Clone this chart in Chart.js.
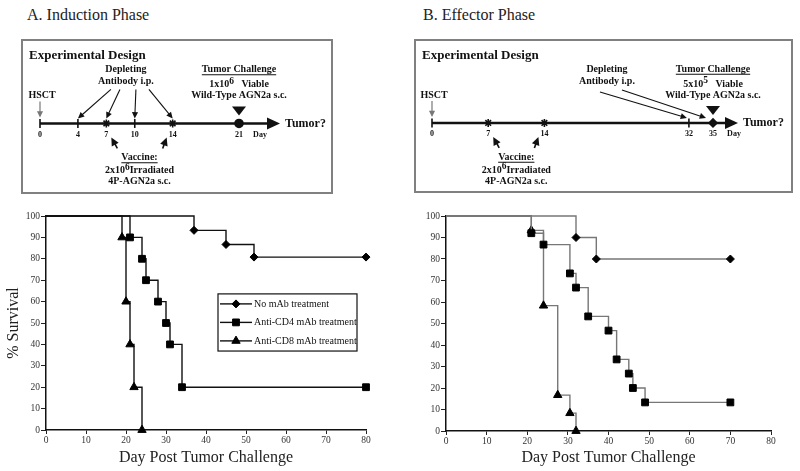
<!DOCTYPE html>
<html>
<head>
<meta charset="utf-8">
<script src="https://cdn.jsdelivr.net/npm/chart.js@4.4.0/dist/chart.umd.min.js"></script>
<style>
  body { margin: 0; background: #fff; width: 800px; height: 471px; overflow: hidden; position: relative; font-family: "Liberation Serif", "Times New Roman", serif; }
  .title { position: absolute; top: 6px; font-size: 16px; line-height: 18px; color: #222; }
  .box { position: absolute; border: 2px solid #808080; box-sizing: border-box; }
  canvas { position: absolute; }
</style>
</head>
<body>
<div class="title" style="left:27px">A. Induction Phase</div>
<div class="title" style="left:423px">B. Effector Phase</div>
<div class="box" style="left:21px;top:39px;width:312px;height:155px"></div>
<div class="box" style="left:414px;top:39px;width:379px;height:154px"></div>
<canvas id="designA" width="310" height="153" style="left:22px;top:40px"></canvas>
<canvas id="designB" width="377" height="152" style="left:415px;top:40px"></canvas>
<canvas id="survivalA" width="400" height="266" style="left:0;top:205px"></canvas>
<canvas id="survivalB" width="400" height="266" style="left:400px;top:205px"></canvas>
<script>
const FAMILY = '"Liberation Serif", "Times New Roman", serif';

// Experimental design timelines (days)
const inductionDays = [0, 4, 7, 10, 14, 21];
const inductionDepletingDays = [4, 7, 10, 14];
const inductionVaccineDays = [7, 14];
const inductionChallengeDay = 21;
const inductionTumorDose = ['1x10', '6'];

const effectorDays = [0, 7, 14, 32, 35];
const effectorDepletingDays = [32, 35];
const effectorVaccineDays = [7, 14];
const effectorChallengeDay = 35;
const effectorTumorDose = ['5x10', '5'];

// Survival curves
const seriesLabels = ['No mAb treatment', 'Anti-CD4 mAb treatment', 'Anti-CD8 mAb treatment'];
const dayTicks = [0, 10, 20, 30, 40, 50, 60, 70, 80];
const survivalTicks = [0, 10, 20, 30, 40, 50, 60, 70, 80, 90, 100];

const inductionNoMabDays = [0, 37, 45, 52, 80];
const inductionNoMabSurvival = [100, 93.3, 86.7, 80.8, 80.8];
const inductionCd4Days = [0, 21, 24, 25, 28, 30, 31, 34, 80];
const inductionCd4Survival = [100, 90, 80, 70, 60, 50, 40, 20, 20];
const inductionCd8Days = [0, 19, 20, 21, 22, 24];
const inductionCd8Survival = [100, 90, 60, 40, 20, 0];

const effectorNoMabDays = [0, 32, 37, 70];
const effectorNoMabSurvival = [100, 90, 80, 80];
const effectorCd4Days = [0, 21, 24, 30.5, 32, 35, 40, 42, 45, 46, 49, 70];
const effectorCd4Survival = [100, 92, 86.7, 73.3, 66.7, 53.3, 46.7, 33.3, 26.7, 20, 13.3, 13.3];
const effectorCd8Days = [0, 21, 24, 27.5, 30.5, 32];
const effectorCd8Survival = [100, 93.3, 58.3, 16.7, 8.3, 0];

// ---------- drawing helpers ----------
function arrow(ctx, x1, y1, x2, y2, head, color, lw) {
  const a = Math.atan2(y2 - y1, x2 - x1);
  ctx.strokeStyle = color;
  ctx.fillStyle = color;
  ctx.lineWidth = lw;
  ctx.beginPath();
  ctx.moveTo(x1, y1);
  ctx.lineTo(x2 - Math.cos(a) * head * 0.7, y2 - Math.sin(a) * head * 0.7);
  ctx.stroke();
  ctx.beginPath();
  ctx.moveTo(x2, y2);
  ctx.lineTo(x2 - head * Math.cos(a - 0.45), y2 - head * Math.sin(a - 0.45));
  ctx.lineTo(x2 - head * Math.cos(a + 0.45), y2 - head * Math.sin(a + 0.45));
  ctx.closePath();
  ctx.fill();
}

function boldText(ctx, text, x, y, size, align, underline) {
  ctx.font = 'bold ' + size + 'px ' + FAMILY;
  ctx.textAlign = align || 'center';
  ctx.textBaseline = 'middle';
  ctx.fillStyle = '#111';
  ctx.fillText(text, x, y);
  if (underline) {
    const w = ctx.measureText(text).width;
    const left = ctx.textAlign === 'center' ? x - w / 2 : x;
    ctx.fillRect(left, y + size * 0.48, w, 1);
  }
}

// parts: [{t, sup}]
function richText(ctx, parts, cx, cy, size) {
  const fontOf = p => 'bold ' + (p.sup ? size * 0.95 : size) + 'px ' + FAMILY;
  const widths = parts.map(p => { ctx.font = fontOf(p); return ctx.measureText(p.t).width; });
  let x = cx - widths.reduce((a, b) => a + b, 0) / 2;
  ctx.textAlign = 'left';
  ctx.textBaseline = 'middle';
  ctx.fillStyle = '#111';
  parts.forEach((p, i) => {
    ctx.font = fontOf(p);
    ctx.fillText(p.t, x, p.sup ? cy - size * 0.3 : cy);
    x += widths[i];
  });
}

// ---------- experimental design panels ----------
const designPlugin = {
  id: 'design',
  beforeDatasetsDraw(chart, args, o) {
    const ctx = chart.ctx;
    const xs = chart.scales.x;
    const ty = chart.scales.y.getPixelForValue(0);
    const px = d => xs.getPixelForValue(d);
    const mean = arr => arr.reduce((a, b) => a + b, 0) / arr.length;
    ctx.save();

    boldText(ctx, 'Experimental Design', 7, 16, 13, 'left');

    // timeline with arrow head
    const x0 = px(0);
    const xEnd = px(o.challenge) + o.arrowEnd;
    ctx.strokeStyle = '#111';
    ctx.lineWidth = 2.5;
    ctx.beginPath();
    ctx.moveTo(x0, ty);
    ctx.lineTo(xEnd - 10, ty);
    ctx.stroke();
    ctx.fillStyle = '#111';
    ctx.beginPath();
    ctx.moveTo(xEnd, ty);
    ctx.lineTo(xEnd - 13, ty - 6);
    ctx.lineTo(xEnd - 13, ty + 6);
    ctx.closePath();
    ctx.fill();
    boldText(ctx, 'Tumor?', xEnd + 5, ty, 12, 'left');

    // day labels
    o.days.forEach(d => boldText(ctx, String(d), px(d), ty + 11, 8));
    boldText(ctx, 'Day', px(o.challenge) + 21, ty + 11, 8);

    // HSCT
    boldText(ctx, 'HSCT', x0 + 2, ty - 28, 10);
    arrow(ctx, x0, ty - 22, x0, ty - 6, 7, '#777', 1.2);

    // depleting antibody
    const dc = px(mean(o.depleting)) + o.depShift;
    boldText(ctx, 'Depleting', dc, ty - 54, 10);
    boldText(ctx, 'Antibody i.p.', dc, ty - 42, 10);
    o.depleting.forEach((d, i) => {
      arrow(ctx, dc + o.depTail[i], ty + o.depTailY[i], px(d) + o.depTip[i], ty - 5, 7, '#111', 1.1);
    });

    // tumor challenge
    const cx = px(o.challenge);
    boldText(ctx, 'Tumor Challenge', cx, ty - 54, 10, 'center', true);
    richText(ctx, [{ t: o.dose[0] }, { t: o.dose[1], sup: true }, { t: '   Viable' }], cx, ty - 39, 10);
    boldText(ctx, 'Wild-Type AGN2a s.c.', cx, ty - 28, 10);
    ctx.fillStyle = '#111';
    ctx.beginPath();
    ctx.moveTo(cx - 7, ty - 17);
    ctx.lineTo(cx + 7, ty - 17);
    ctx.lineTo(cx, ty - 8);
    ctx.closePath();
    ctx.fill();

    // vaccine
    const vc = px(mean(o.vaccine));
    boldText(ctx, 'Vaccine:', vc, ty + 34, 10, 'center', true);
    richText(ctx, [{ t: '2x10' }, { t: '6', sup: true }, { t: 'Irradiated' }], vc, ty + 47, 10);
    boldText(ctx, '4P-AGN2a s.c.', vc, ty + 58, 10);
    arrow(ctx, px(o.vaccine[0]) + 11, ty + 25, px(o.vaccine[0]) + 5, ty + 14, 9, '#111', 1.6);
    arrow(ctx, px(o.vaccine[1]) - 10, ty + 25, px(o.vaccine[1]) - 6, ty + 14, 9, '#111', 1.6);

    ctx.restore();
  }
};

function designChart(id, o, pad) {
  const markStyle = d => d === o.challenge ? o.challengeMark : (o.vaccine.includes(d) ? 'star' : 'line');
  new Chart(document.getElementById(id), {
    type: 'scatter',
    data: {
      datasets: [{
        data: o.days.map(d => ({ x: d, y: 0 })),
        pointStyle: c => markStyle(o.days[c.dataIndex]),
        rotation: c => markStyle(o.days[c.dataIndex]) === 'line' ? 90 : 0,
        pointRadius: c => markStyle(o.days[c.dataIndex]) === 'line' ? 4.5 : 4,
        backgroundColor: '#111',
        borderColor: '#111',
        borderWidth: 1.6,
        clip: false
      }]
    },
    options: {
      responsive: false,
      animation: false,
      layout: { padding: { left: pad[0], right: pad[1], top: 20, bottom: 0 } },
      plugins: { legend: { display: false }, tooltip: { enabled: false }, design: o },
      scales: {
        x: { type: 'linear', display: false, min: 0, max: o.challenge },
        y: { display: false, min: -1, max: 1 }
      }
    },
    plugins: [designPlugin]
  });
}

designChart('designA', {
  days: inductionDays, depleting: inductionDepletingDays, vaccine: inductionVaccineDays,
  challenge: inductionChallengeDay, challengeMark: 'circle', dose: inductionTumorDose,
  arrowEnd: 41, depShift: 3,
  depTail: [-15, -6, 10, 23], depTailY: [-34, -34, -34, -34], depTip: [0, 0, 0, 0]
}, [18, 93]);

designChart('designB', {
  days: effectorDays, depleting: effectorDepletingDays, vaccine: effectorVaccineDays,
  challenge: effectorChallengeDay, challengeMark: 'rectRot', dose: effectorTumorDose,
  arrowEnd: 25, depShift: -94,
  depTail: [-7, 15], depTailY: [-31, -33], depTip: [-2, -7]
}, [17, 79]);

// ---------- survival panels ----------
const markers = [
  { shape: 'rectRot', r: 4 },
  { shape: 'rect', r: 4.8 },
  { shape: 'triangle', r: 4.8 }
];

function kmSet(i, days, survival, lineColor) {
  return {
    label: seriesLabels[i],
    data: days.map((d, k) => ({ x: d, y: survival[k] })),
    stepped: true,
    borderColor: lineColor,
    borderWidth: 1.4,
    pointStyle: markers[i].shape,
    pointRadius: c => c.dataIndex === 0 ? 0 : markers[i].r,
    pointBackgroundColor: '#000',
    pointBorderColor: '#000',
    pointBorderWidth: 1,
    fill: false,
    clip: false
  };
}

const legendPlugin = {
  id: 'kmLegend',
  afterDatasetsDraw(chart, args, o) {
    if (!o.show) return;
    const ctx = chart.ctx;
    const x = chart.scales.x, y = chart.scales.y;
    const left = x.getPixelForValue(o.box[0]), right = x.getPixelForValue(o.box[1]);
    const top = y.getPixelForValue(o.box[2]), bottom = y.getPixelForValue(o.box[3]);
    ctx.save();
    ctx.fillStyle = '#fff';
    ctx.fillRect(left, top, right - left, bottom - top);
    ctx.strokeStyle = '#111';
    ctx.lineWidth = 1.2;
    ctx.strokeRect(left, top, right - left, bottom - top);
    chart.data.datasets.forEach((ds, i) => {
      const ry = top + 10 + i * 18.5;
      ctx.strokeStyle = ds.borderColor;
      ctx.lineWidth = 1.4;
      ctx.beginPath();
      ctx.moveTo(left + 2, ry);
      ctx.lineTo(left + 34, ry);
      ctx.stroke();
      ctx.fillStyle = '#000';
      ctx.strokeStyle = '#000';
      ctx.lineWidth = 1;
      Chart.helpers.drawPoint(ctx, { pointStyle: markers[i].shape, radius: markers[i].r, borderWidth: 1 }, left + 18, ry);
      ctx.font = '10px ' + FAMILY;
      ctx.fillStyle = '#111';
      ctx.textAlign = 'left';
      ctx.textBaseline = 'middle';
      ctx.fillText(ds.label, left + 36, ry);
    });
    ctx.restore();
  }
};

function survivalChart(id, datasets, opts) {
  const tickFont = { family: FAMILY, size: 9.5 };
  new Chart(document.getElementById(id), {
    type: 'line',
    data: { datasets },
    options: {
      responsive: false,
      animation: false,
      layout: { padding: { left: 0, right: opts.padRight, top: 11, bottom: 0 } },
      plugins: { legend: { display: false }, tooltip: { enabled: false }, kmLegend: opts.legend },
      scales: {
        x: {
          type: 'linear', min: 0, max: 80,
          afterBuildTicks: s => { s.ticks = dayTicks.map(v => ({ value: v })); },
          ticks: { font: tickFont, color: '#333', padding: 1, maxRotation: 0 },
          grid: { drawOnChartArea: false, tickLength: 4, color: '#222' },
          border: { color: '#111', width: 1.5 },
          title: { display: true, text: 'Day Post Tumor Challenge', font: { family: FAMILY, size: 16 }, color: '#222', padding: { top: 0, bottom: 4 } },
          afterFit: s => { s.height = opts.xHeight; }
        },
        y: {
          min: 0, max: 100,
          afterBuildTicks: s => { s.ticks = survivalTicks.map(v => ({ value: v })); },
          ticks: { font: tickFont, color: '#333', padding: 1 },
          grid: { drawOnChartArea: false, tickLength: 5, color: '#222' },
          border: { color: '#111', width: 1.5 },
          title: { display: opts.yTitle, text: '% Survival', font: { family: FAMILY, size: 16 }, color: '#222', padding: { top: 4, bottom: 0 } },
          afterFit: s => { s.width = 46; }
        }
      }
    },
    plugins: [legendPlugin]
  });
}

survivalChart('survivalA', [
  kmSet(0, inductionNoMabDays, inductionNoMabSurvival, '#111'),
  kmSet(1, inductionCd4Days, inductionCd4Survival, '#111'),
  kmSet(2, inductionCd8Days, inductionCd8Survival, '#111')
], { padRight: 34, xHeight: 41, yTitle: true, legend: { show: true, box: [43, 77.75, 63.6, 36.9] } });

survivalChart('survivalB', [
  kmSet(0, effectorNoMabDays, effectorNoMabSurvival, '#777'),
  kmSet(1, effectorCd4Days, effectorCd4Survival, '#777'),
  kmSet(2, effectorCd8Days, effectorCd8Survival, '#777')
], { padRight: 29, xHeight: 40, yTitle: false, legend: { show: false } });
</script>
</body>
</html>
